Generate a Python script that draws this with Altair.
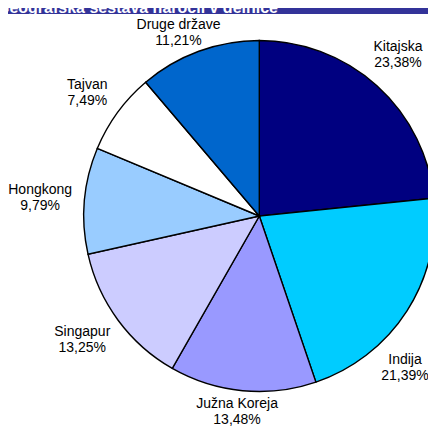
import altair as alt
import pandas as pd

countries = ["Kitajska", "Indija", "Južna Koreja", "Singapur", "Hongkong", "Tajvan", "Druge države"]
shares = [23.38, 21.39, 13.48, 13.25, 9.79, 7.49, 11.21]
colors = ["#000080", "#00CCFF", "#9999FF", "#CCCCFF", "#99CCFF", "#FFFFFF", "#0066CC"]
title_text = "Geografska sestava naročil v delnice"

df = pd.DataFrame({
    "country": countries,
    "share": shares,
    "color": colors,
    "order": list(range(len(countries))),
})
df["pct"] = [f"{v:.2f}".replace(".", ",") + "%" for v in shares]

W, H = 420, 418
CX, CY, R = 251.3, 208.0, 175.5
LR = 192  # label anchor radius
LH = 16   # label line height

base = alt.Chart(df)

pie = base.mark_arc(radius=R, stroke="black", strokeWidth=1.4).encode(
    theta=alt.Theta("share:Q", stack=True),
    color=alt.Color("color:N", scale=None),
    order=alt.Order("order:Q"),
    x=alt.value(CX),
    y=alt.value(CY),
)

labels = base.transform_window(
    cum="sum(share)", sort=[alt.SortField("order")], frame=[None, 0]
).transform_joinaggregate(
    total="sum(share)"
).transform_calculate(
    mid="2*PI*(datum.cum - datum.share/2)/datum.total",
    a="3.5*max(length(datum.country), length(datum.pct))",
).transform_calculate(
    lx=f"clamp({CX} + ({LR} + datum.a)*sin(datum.mid), datum.a + 2, {W} - datum.a - 2)",
).transform_calculate(
    ex=f"(datum.lx - {CX})/({LR} + datum.a)",
).transform_calculate(
    ly=(f"clamp({CY} - (cos(datum.mid) >= 0 ? 1 : -1)*({LR} + {LH})*sqrt(max(0, 1 - datum.ex*datum.ex)), "
        f"{LH} + 9, {H} - 14) - {LH}/2"),
    txt="datum.country + '\\n' + datum.pct",
).mark_text(
    font="Arial", fontSize=14, lineHeight=LH, color="black",
    align="center", baseline="middle", lineBreak="\n",
).encode(
    x=alt.X("lx:Q", scale=None),
    y=alt.Y("ly:Q", scale=None),
    text="txt:N",
)

tdf = pd.DataFrame({"t": [title_text]})
bar = alt.Chart(tdf).mark_rect(color="#333399").encode(
    x=alt.value(0), x2=alt.value(W), y=alt.value(0), y2=alt.value(6)
)
ttl = alt.Chart(tdf).mark_text(
    align="right", baseline="alphabetic", fontSize=16, fontWeight="bold",
    color="white", font="Arial",
).encode(text="t:N", x=alt.value(270), y=alt.value(5))

chart = alt.layer(bar, ttl, pie, labels).properties(
    width=W, height=H, padding=0, autosize="none"
).configure_view(stroke=None)

chart.save("out.html", embed_options={"renderer": "svg", "actions": False})
